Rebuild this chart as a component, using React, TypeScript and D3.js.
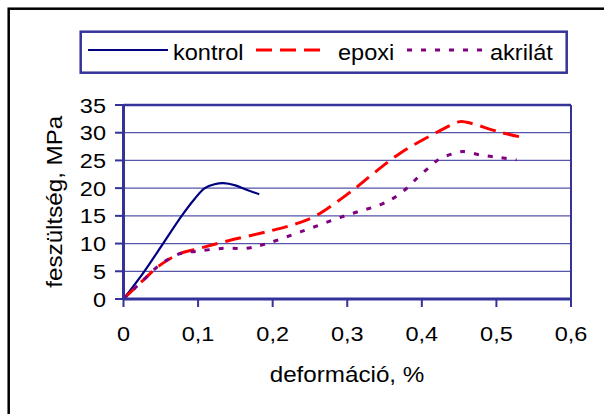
import React from "react";
import * as d3 from "d3";

const kontrolX = [0, 0.028, 0.053, 0.078, 0.095, 0.109, 0.122, 0.134, 0.15, 0.165, 0.182];
const kontrolY = [0, 5, 10, 15, 18, 20, 20.7, 20.9, 20.5, 19.7, 18.9];

const epoxiX = [0, 0.0265, 0.05, 0.0757, 0.098, 0.134, 0.2, 0.232, 0.259, 0.308, 0.33, 0.371, 0.422, 0.451, 0.46, 0.505, 0.54];
const epoxiY = [0, 3.4, 6.2, 8.2, 9.0, 10.3, 12.4, 13.6, 15.1, 19.7, 22.1, 26.3, 30.2, 32.0, 31.9, 30.1, 29.0];

const akrilatX = [0, 0.0265, 0.05, 0.076, 0.098, 0.134, 0.165, 0.192, 0.237, 0.299, 0.344, 0.362, 0.38, 0.395, 0.411, 0.424, 0.447, 0.456, 0.478, 0.505, 0.527];
const akrilatY = [0, 3.4, 6.3, 8.2, 8.6, 9.15, 9.15, 10.0, 12.1, 15.1, 17.0, 18.2, 20.0, 22.0, 23.9, 25.3, 26.4, 26.6, 26.0, 25.5, 25.1];

const xTicks = [0, 0.1, 0.2, 0.3, 0.4, 0.5, 0.6];
const yTicks = [0, 5, 10, 15, 20, 25, 30, 35];
const seriesNames = ["kontrol", "epoxi", "akrilát"];
const xTitle = "deformáció, %";
const yTitle = "feszültség, MPa";

const FONT = "'Liberation Sans', Arial, Helvetica, sans-serif";
const NAVY = "#333399";

function T(props: {
  x: number;
  y: number;
  size: number;
  sx: number;
  anchor?: string;
  rotate?: number;
  children: React.ReactNode;
}) {
  const { x, y, size, sx, anchor = "start", rotate = 0, children } = props;
  return (
    <text
      transform={`translate(${x},${y}) rotate(${rotate}) scale(${sx},1)`}
      textAnchor={anchor}
      fontSize={size}
      fill="#000"
    >
      {children}
    </text>
  );
}

export default function App() {
  const x = d3.scaleLinear().domain([0, 0.6]).range([123.5, 571]);
  const y = d3.scaleLinear().domain([0, 35]).range([299, 105]);
  const line = d3
    .line<[number, number]>()
    .x((d) => x(d[0]))
    .y((d) => y(d[1]))
    .curve(d3.curveCatmullRom.alpha(0.5));

  const zip = (a: number[], b: number[]) => a.map((v, i) => [v, b[i]] as [number, number]);
  const series = [
    { name: seriesNames[0], data: zip(kontrolX, kontrolY), color: "#000080", dash: "none", w: 2.2 },
    { name: seriesNames[1], data: zip(epoxiX, epoxiY), color: "#ff0000", dash: "16 8", w: 3 },
    { name: seriesNames[2], data: zip(akrilatX, akrilatY), color: "#800080", dash: "5 9", w: 3 },
  ];
  const fmt = (d: number) => (d === 0 ? "0" : d.toFixed(1).replace(".", ","));
  const [x0, x1] = x.range();
  const [yb, yt] = y.range();

  const legendItems = [
    { lx1: 88, lx2: 168, tx: 173 },
    { lx1: 256, lx2: 328, tx: 338 },
    { lx1: 407, lx2: 486, tx: 490 },
  ];

  return (
    <svg
      width={604}
      height={414}
      style={{ position: "absolute", left: 0, top: 0, background: "#fff" }}
      fontFamily={FONT}
    >
      <rect x={0} y={0} width={604} height={414} fill="#fff" />
      <rect x={8.7} y={8.7} width={800} height={600} fill="none" stroke="#000" strokeWidth={2.5} />

      {yTicks
        .filter((t) => t > 0 && t < 35)
        .map((t) => (
          <line key={"g" + t} x1={x0} x2={x1} y1={y(t)} y2={y(t)} stroke="#5555aa" strokeWidth={1.3} />
        ))}

      <line x1={x0} x2={x1} y1={yt} y2={yt} stroke={NAVY} strokeWidth={2.5} />
      <line x1={x1} x2={x1} y1={yt} y2={yb} stroke={NAVY} strokeWidth={2} />

      {series.map((s) => (
        <path
          key={s.name}
          d={line(s.data) || ""}
          fill="none"
          stroke={s.color}
          strokeWidth={s.w}
          strokeDasharray={s.dash}
          strokeLinejoin="round"
        />
      ))}

      <line x1={x0} x2={x1 + 1} y1={yb} y2={yb} stroke={NAVY} strokeWidth={3} />
      <line x1={x0} x2={x0} y1={yt - 1} y2={yb + 1} stroke={NAVY} strokeWidth={3} />
      {xTicks.map((t) => (
        <line key={"xt" + t} x1={x(t)} x2={x(t)} y1={yb} y2={yb + 8} stroke={NAVY} strokeWidth={2} />
      ))}
      {yTicks.map((t) => (
        <line key={"yt" + t} x1={x0 - 8.5} x2={x0} y1={y(t)} y2={y(t)} stroke={NAVY} strokeWidth={2} />
      ))}

      {xTicks.map((t) => (
        <T key={"xl" + t} x={x(t)} y={340.5} size={21} sx={1.12} anchor="middle">
          {fmt(t)}
        </T>
      ))}
      {yTicks.map((t) => (
        <T key={"yl" + t} x={106} y={y(t) + 7.5} size={21} sx={1.12} anchor="end">
          {t}
        </T>
      ))}

      <T x={347} y={381.5} size={22} sx={1.1} anchor="middle">
        {xTitle}
      </T>
      <T x={61.5} y={201.7} size={22} sx={1.1} anchor="middle" rotate={-90}>
        {yTitle}
      </T>

      <rect x={80.7} y={31.7} width={486} height={41} fill="#fff" stroke={NAVY} strokeWidth={2.5} />
      {series.map((s, i) => (
        <g key={"lg" + s.name}>
          <line
            x1={legendItems[i].lx1}
            x2={legendItems[i].lx2}
            y1={50}
            y2={50}
            stroke={s.color}
            strokeWidth={s.w}
            strokeDasharray={s.dash}
          />
          <T x={legendItems[i].tx} y={60} size={22} sx={1.07}>
            {s.name}
          </T>
        </g>
      ))}
    </svg>
  );
}
